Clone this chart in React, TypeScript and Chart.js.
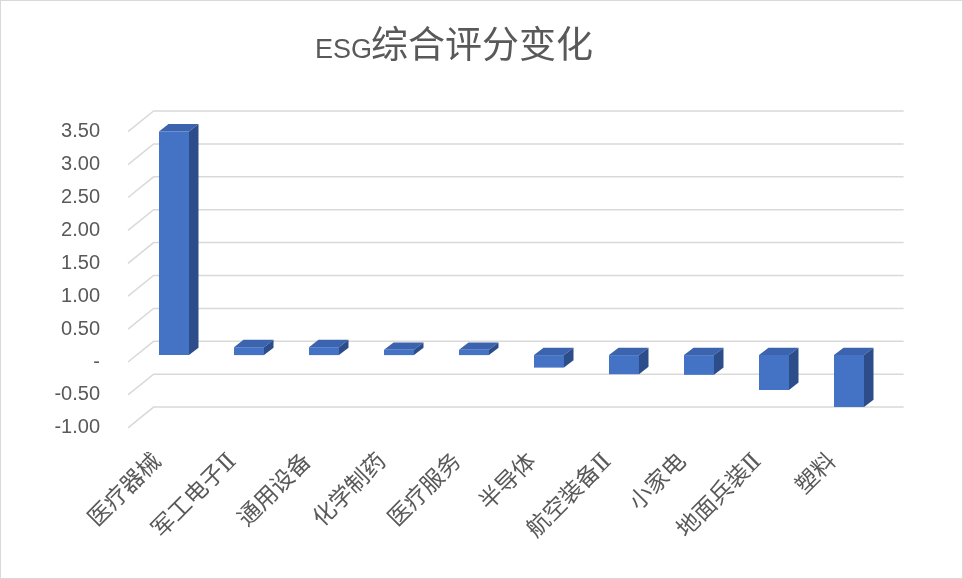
import React, { useEffect, useRef } from 'react';
import { Chart, registerables } from 'chart.js';

Chart.register(...registerables);

const titleLatin = 'ESG';
const titleCJK = '综合评分变化';
const categories = ['医疗器械', '军工电子Ⅱ', '通用设备', '化学制药', '医疗服务', '半导体', '航空装备Ⅱ', '小家电', '地面兵装Ⅱ', '塑料'];
const values = [3.40, 0.12, 0.12, 0.08, 0.08, -0.19, -0.29, -0.30, -0.53, -0.79];
const yMin = -1;
const yMax = 3.5;
const yStep = 0.5;

const FRONT = { x: 8.5, y: -6.9 };
const DEPTH = { x: 9.5, y: -7.4 };
const WALL = { x: 25.6, y: -20.7 };

const COLORS = { front: '#4472C4', top: '#3B63AE', side: '#2C4D89', grid: '#D9D9D9', text: '#595959' };

const threeD = {
  id: 'threeD',
  beforeDatasetsDraw(chart: any) {
    const { ctx, chartArea, scales } = chart;
    const ys = scales.y;
    ctx.save();
    ctx.strokeStyle = COLORS.grid;
    ctx.lineWidth = 1.5;
    ys.ticks.forEach((t: any) => {
      const py = ys.getPixelForValue(t.value);
      ctx.beginPath();
      ctx.moveTo(chartArea.left, py);
      ctx.lineTo(chartArea.left + WALL.x, py + WALL.y);
      ctx.lineTo(chartArea.right + WALL.x, py + WALL.y);
      ctx.stroke();
    });
    const meta = chart.getDatasetMeta(0);
    meta.data.forEach((bar: any) => {
      const p = bar.getProps(['x', 'y', 'base', 'width'], true);
      const xl = p.x - p.width / 2 + FRONT.x;
      const xr = p.x + p.width / 2 + FRONT.x;
      const yt = Math.min(p.y, p.base) + FRONT.y;
      const yb = Math.max(p.y, p.base) + FRONT.y;
      ctx.fillStyle = COLORS.top;
      ctx.beginPath();
      ctx.moveTo(xl, yt);
      ctx.lineTo(xr, yt);
      ctx.lineTo(xr + DEPTH.x, yt + DEPTH.y);
      ctx.lineTo(xl + DEPTH.x, yt + DEPTH.y);
      ctx.closePath();
      ctx.fill();
      ctx.fillStyle = COLORS.side;
      ctx.beginPath();
      ctx.moveTo(xr, yt);
      ctx.lineTo(xr, yb);
      ctx.lineTo(xr + DEPTH.x, yb + DEPTH.y);
      ctx.lineTo(xr + DEPTH.x, yt + DEPTH.y);
      ctx.closePath();
      ctx.fill();
    });
    ctx.restore();
  },
  beforeDatasetDraw(chart: any) {
    chart.ctx.save();
    chart.ctx.translate(FRONT.x, FRONT.y);
  },
  afterDatasetDraw(chart: any) {
    chart.ctx.restore();
  },
  afterDraw(chart: any) {
    const { ctx } = chart;
    ctx.save();
    ctx.fillStyle = COLORS.text;
    ctx.textBaseline = 'alphabetic';
    ctx.textAlign = 'left';
    ctx.font = '27px "Liberation Sans"';
    ctx.fillText(titleLatin, 315, 57.7);
    ctx.font = '37px "Noto Sans CJK SC"';
    ctx.fillText(titleCJK, 371, 58);
    ctx.strokeStyle = COLORS.grid;
    ctx.lineWidth = 1;
    ctx.strokeRect(0.5, 0.5, chart.width - 1, chart.height - 1);
    ctx.restore();
  },
};

export default function App() {
  const ref = useRef<HTMLCanvasElement>(null);
  useEffect(() => {
    if (!ref.current) return;
    const chart = new Chart(ref.current, {
      type: 'bar',
      data: {
        labels: categories,
        datasets: [
          {
            data: values,
            backgroundColor: COLORS.front,
            borderWidth: 0,
            barPercentage: 0.4,
            categoryPercentage: 1,
            clip: false as any,
          },
        ],
      },
      options: {
        animation: false,
        responsive: false,
        devicePixelRatio: 1,
        layout: { padding: { top: 131.7, right: 85, left: 0, bottom: 0 } },
        plugins: { legend: { display: false }, tooltip: { enabled: false }, title: { display: false } },
        scales: {
          x: {
            grid: { display: false, drawTicks: false },
            border: { display: false },
            ticks: {
              autoSkip: false,
              maxRotation: 45,
              minRotation: 45,
              padding: 20.7,
              labelOffset: -7.5,
              color: COLORS.text,
              font: { family: '"DejaVu Serif", "Noto Sans CJK SC"', size: 23 },
            },
            afterFit: (s: any) => {
              s.height = 579 - 427.8;
            },
          },
          y: {
            min: yMin,
            max: yMax,
            grid: { display: false, drawTicks: false },
            border: { display: false },
            ticks: {
              stepSize: yStep,
              padding: 28,
              color: COLORS.text,
              font: { family: '"Liberation Sans"', size: 20 },
              callback: (v: any) => (Math.abs(Number(v)) < 1e-9 ? '-' : Number(v).toFixed(2)),
            },
            afterFit: (s: any) => {
              s.width = 128;
            },
          },
        },
      },
      plugins: [threeD],
    });
    return () => chart.destroy();
  }, []);
  return (
    <div style={{ position: 'fixed', left: 0, top: 0, width: 963, height: 579, background: '#fff' }}>
      <canvas ref={ref} width={963} height={579} style={{ display: 'block' }} />
    </div>
  );
}
